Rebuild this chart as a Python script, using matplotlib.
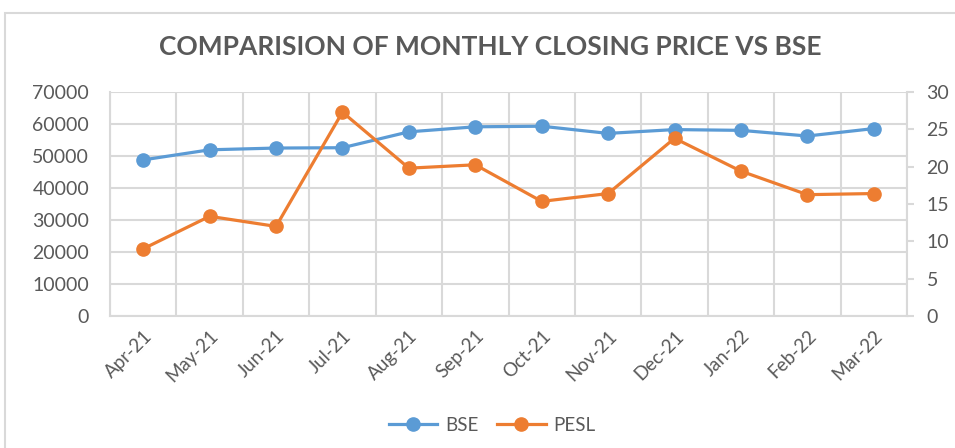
import matplotlib
matplotlib.use("Agg")
import matplotlib.pyplot as plt
from matplotlib.patches import Rectangle
from matplotlib.lines import Line2D

months = ["Apr-21", "May-21", "Jun-21", "Jul-21", "Aug-21", "Sep-21",
          "Oct-21", "Nov-21", "Dec-21", "Jan-22", "Feb-22", "Mar-22"]
bse = [48782, 51937, 52483, 52587, 57552, 59126, 59307, 57065, 58254, 58014, 56247, 58569]
pesl = [9.0, 13.35, 12.0, 27.3, 19.8, 20.25, 15.35, 16.4, 23.8, 19.4, 16.25, 16.4]
left_ticks = [0, 10000, 20000, 30000, 40000, 50000, 60000, 70000]
right_ticks = [0, 5, 10, 15, 20, 25, 30]

plt.rcParams['font.family'] = ['Lato', 'DejaVu Sans']
TXT = '#595959'
GRID = '#D9D9D9'
BLUE = '#5B9BD5'
ORANGE = '#ED7D31'

fig = plt.figure(figsize=(9.55, 4.48), dpi=100)
fig.patches.append(Rectangle((5/955, -0.1), 1.2, (448-13)/448 + 0.1, transform=fig.transFigure,
                             fill=False, edgecolor='#D9D9D9', linewidth=1.5, zorder=0))

ax = fig.add_axes([110/955, 1-316/448, (907-110)/955, (316-92)/448])
x = list(range(len(months)))
ax.plot(x, bse, color=BLUE, linewidth=2.3, marker='o', markersize=9.5, zorder=3)
ax.set_xlim(-0.5, len(months) - 0.5)
ax.set_ylim(0, 70000)
ax.set_yticks(left_ticks)
ax.set_yticklabels([str(v) for v in left_ticks])
ax.set_xticks(x)
ax.set_xticklabels(months, rotation=45, ha='right', rotation_mode='anchor')
ax.set_xticks([i - 0.5 for i in range(len(months) + 1)], minor=True)
ax.grid(True, which='minor', axis='x', color=GRID, linewidth=1.5)
ax.grid(True, which='major', axis='y', color=GRID, linewidth=1.5)
ax.tick_params(axis='x', which='major', length=0, pad=8, labelsize=13.5, labelcolor=TXT)
ax.tick_params(axis='x', which='minor', length=0)
ax.tick_params(axis='y', length=0, pad=15, labelsize=14, labelcolor=TXT)
for s in ['top', 'right']:
    ax.spines[s].set_visible(False)
for s in ['left', 'bottom']:
    ax.spines[s].set_color(GRID)
    ax.spines[s].set_linewidth(1.5)
ax.set_axisbelow(True)

ax2 = ax.twinx()
ax2.plot(x, pesl, color=ORANGE, linewidth=2.3, marker='o', markersize=9.5, zorder=3)
ax2.set_ylim(0, 30)
ax2.set_yticks(right_ticks)
ax2.set_yticklabels([str(v) for v in right_ticks])
ax2.tick_params(axis='y', length=5, width=1.5, color=GRID, pad=9, labelsize=14, labelcolor=TXT)
for s in ['top', 'left', 'bottom']:
    ax2.spines[s].set_visible(False)
ax2.spines['right'].set_color(GRID)
ax2.spines['right'].set_linewidth(1.5)

fig.text(490/955, 1-47/448, "COMPARISION OF MONTHLY CLOSING PRICE VS BSE", ha='center', va='center',
         fontsize=19, fontweight='bold', color=TXT)

handles = [Line2D([0], [0], color=BLUE, linewidth=2.3, marker='o', markersize=9.5),
           Line2D([0], [0], color=ORANGE, linewidth=2.3, marker='o', markersize=9.5)]
fig.legend(handles, ["BSE", "PESL"], loc='center', bbox_to_anchor=(492/955, 1-425/448), ncol=2,
           frameon=False, fontsize=13.5, labelcolor=TXT, handlelength=2.6, columnspacing=1.0,
           handletextpad=0.4)

fig.savefig("out.png", dpi=100, facecolor='white')
